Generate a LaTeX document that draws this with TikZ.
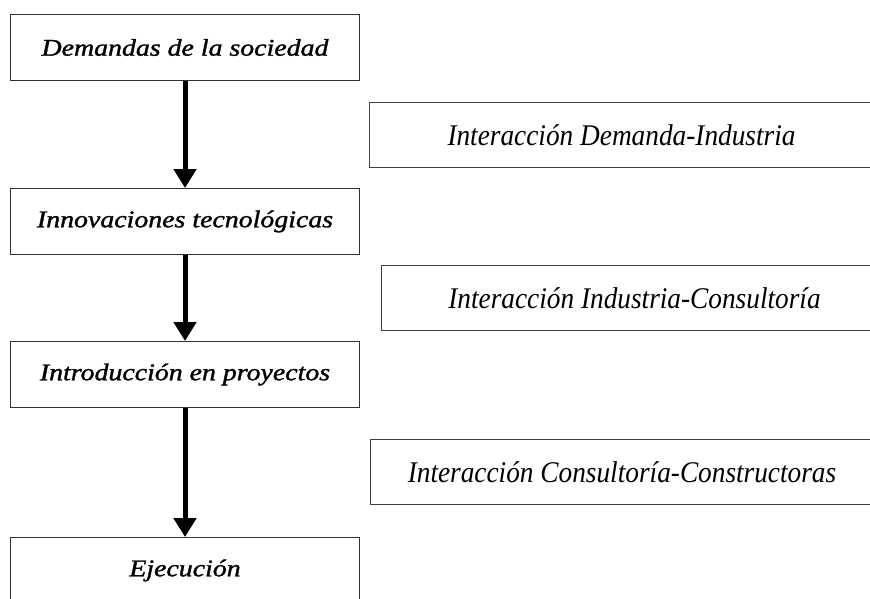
\documentclass[tikz,border=0pt]{standalone}
\usepackage{fontspec}
\setmainfont{Liberation Serif}
\newfontfamily\leftfont{Liberation Serif}[FakeBold=1.2]
\usetikzlibrary{arrows.meta}
\newcommand{\lefttxt}[1]{\scalebox{1.16}[1]{\leftfont\itshape\fontsize{24}{27}\selectfont #1}}
\newcommand{\righttxt}[1]{\scalebox{0.91}[1]{\itshape\fontsize{30}{33}\selectfont #1}}
\begin{document}
\begin{tikzpicture}[x=1pt,y=1pt,
  leftbox/.style={draw=black!80,line width=1pt,minimum width=349pt,minimum height=66pt,inner sep=0pt,anchor=north west},
  rightbox/.style={draw=black!75,line width=1pt,minimum height=65pt,inner sep=0pt,anchor=north west},
  flow/.style={line width=5pt,-{Triangle[width=22pt,length=19pt]}}]
\useasboundingbox (0,0) rectangle (870,-598);
\node[leftbox] (d) at (10,-14) {\lefttxt{Demandas de la sociedad}};
\node[leftbox] (i) at (10,-188) {\lefttxt{Innovaciones tecnológicas}};
\node[leftbox] (p) at (10,-341) {\lefttxt{Introducción en proyectos}};
\node[leftbox] (e) at (10,-537) {\lefttxt{Ejecución}};
\node[rightbox,minimum width=504pt] (a) at (369,-102) {\righttxt{Interacción Demanda-Industria}};
\node[rightbox,minimum width=506pt] (b) at (381,-265) {\righttxt{Interacción Industria-Consultoría}};
\node[rightbox,minimum width=503pt] (c) at (370,-439) {\righttxt{Interacción Consultoría-Constructoras}};
\draw[flow] (d.south) -- (i.north);
\draw[flow] (i.south) -- (p.north);
\draw[flow] (p.south) -- (e.north);
\end{tikzpicture}
\end{document}
